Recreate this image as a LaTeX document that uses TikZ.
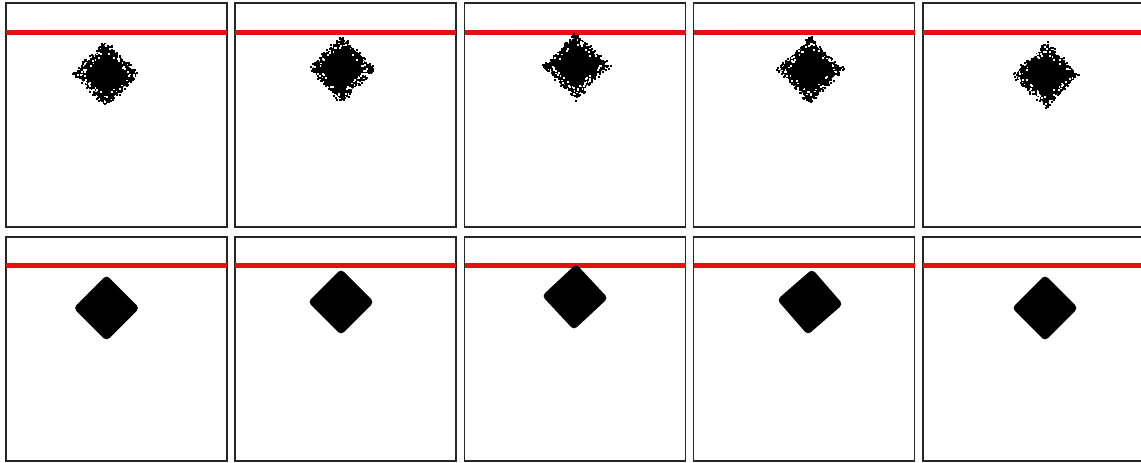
\documentclass[tikz,border=0pt]{standalone}
\definecolor{lvlred}{HTML}{E31212}

\begin{document}
\begin{tikzpicture}[x=1pt, y=-1pt,
     frame/.style={draw=black!85, line width=1.4pt},
     level/.style={draw=lvlred, line width=4.8pt},
     grain/.style={fill=black},
     hole/.style={fill=white}]
  \useasboundingbox (0,0) rectangle (1141,463);
  \fill[white] (0,0) rectangle (1141,463);
  \pgfmathsetseed{4711}
  \foreach \px/\cx/\cy/\dx/\dy/\rot in {6/106/74/106.5/308/0, 235/342/69/341/302/0,
      464.5/576/66/575/297/-2, 693.5/810/70/810/302/-4, 923/1046/75/1045/308/0}{
    \draw[frame] (\px,3) rectangle ++(221,224);
    \draw[frame] (\px,237) rectangle ++(221,224);
    \draw[level] (\px,32.5) -- ++(221,0);
    \draw[level] (\px,265.5) -- ++(221,0);
    % noisy blob
    \fill[grain] (\cx,\cy-30) -- (\cx+30,\cy) -- (\cx,\cy+30) -- (\cx-30,\cy) -- cycle;
    \foreach \k in {1,...,320}{
      \pgfmathsetmacro\u{rand}
      \pgfmathsetmacro\r{28+8*rnd*rnd}
      \pgfmathsetmacro\sg{rnd<0.5 ? -1 : 1}
      \pgfmathsetmacro\gx{\cx+\r*\u-1}
      \pgfmathsetmacro\gy{\cy+\sg*\r*(1-abs(\u))-1}
      \fill[grain] (\gx,\gy) rectangle ++(2,2);
    }
    \foreach \k in {1,...,60}{
      \pgfmathsetmacro\u{rand}
      \pgfmathsetmacro\r{23+7*rnd}
      \pgfmathsetmacro\sg{rnd<0.5 ? -1 : 1}
      \pgfmathsetmacro\gx{\cx+\r*\u-0.9}
      \pgfmathsetmacro\gy{\cy+\sg*\r*(1-abs(\u))-0.9}
      \fill[hole] (\gx,\gy) rectangle ++(1.8,1.8);
    }
    % smooth blob
    \fill[grain, rounded corners=4pt, rotate around={\rot:(\dx,\dy)}]
      (\dx,\dy-33) -- (\dx+33,\dy) -- (\dx,\dy+33) -- (\dx-33,\dy) -- cycle;
  }
\end{tikzpicture}
\end{document}
